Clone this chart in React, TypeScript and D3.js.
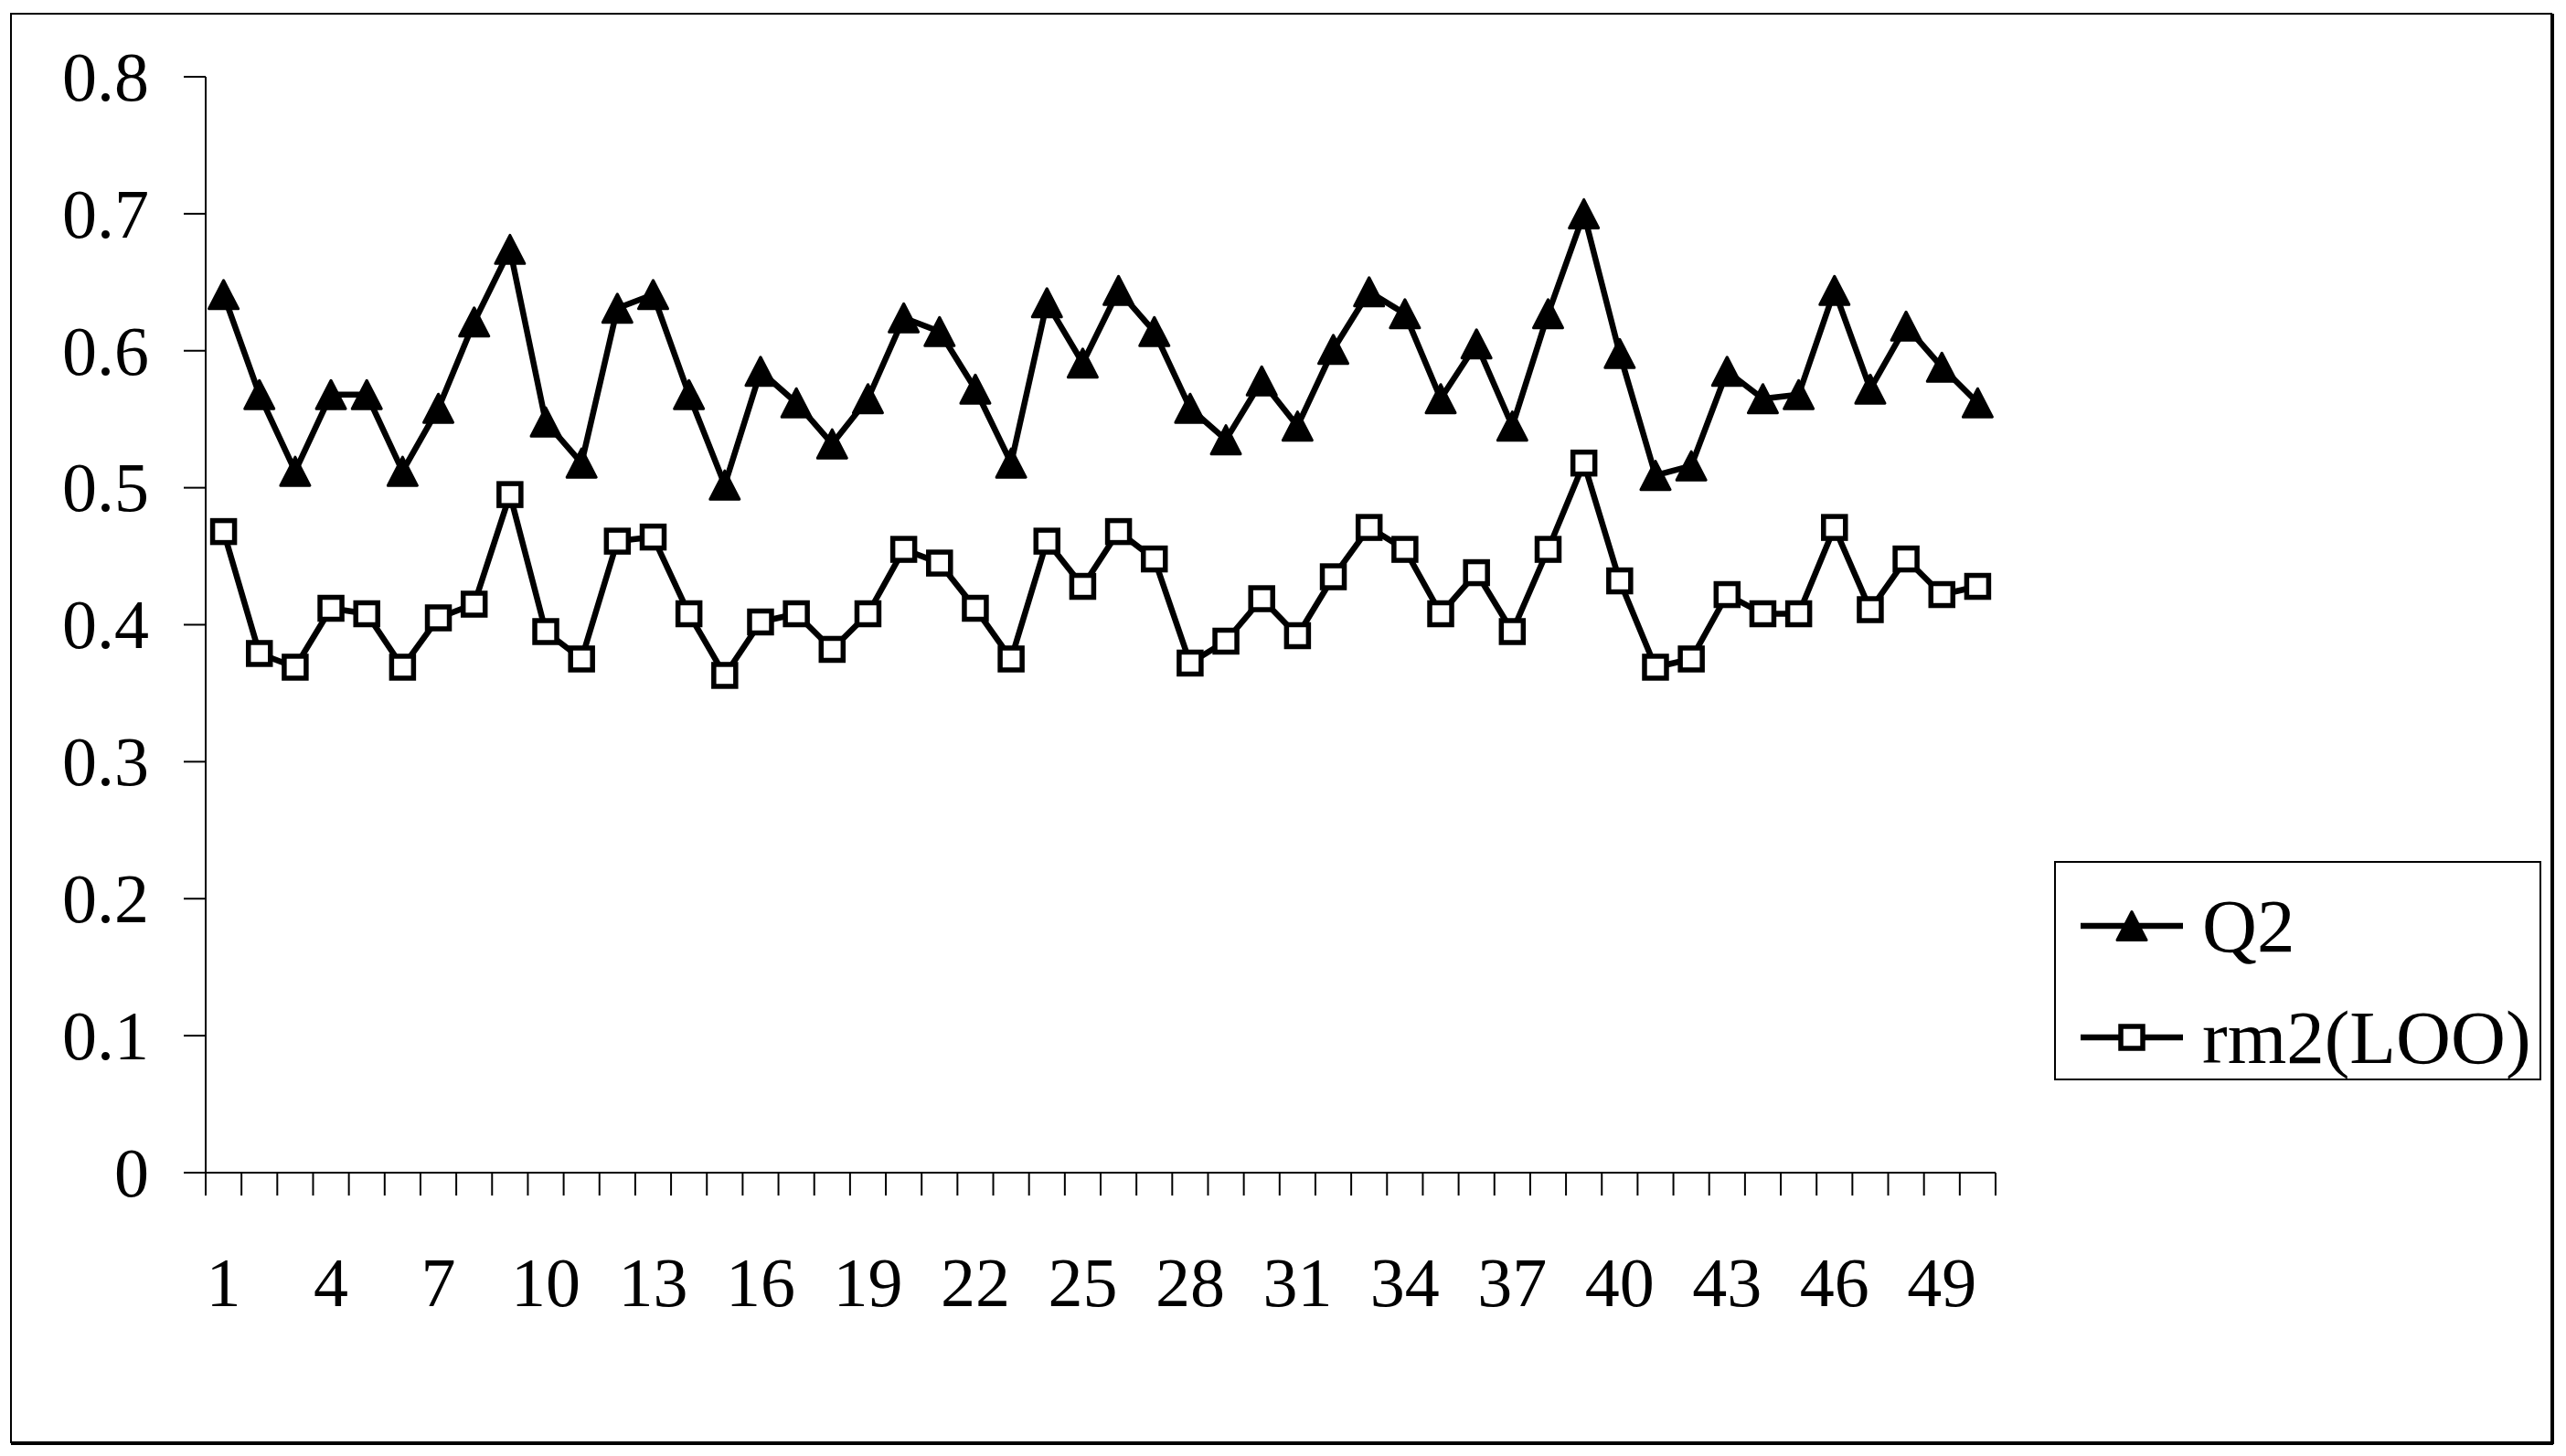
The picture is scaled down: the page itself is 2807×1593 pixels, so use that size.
import React from "react";
import * as d3 from "d3";

const categories: number[] = Array.from({ length: 50 }, (_, i) => i + 1);
const xTickLabels: number[] = [1, 4, 7, 10, 13, 16, 19, 22, 25, 28, 31, 34, 37, 40, 43, 46, 49];
const yTicks: number[] = [0, 0.1, 0.2, 0.3, 0.4, 0.5, 0.6, 0.7, 0.8];

const q2: number[] = [
  0.641, 0.568, 0.512, 0.568, 0.568, 0.512, 0.558, 0.621, 0.674, 0.548,
  0.518, 0.631, 0.641, 0.568, 0.502, 0.585, 0.562, 0.532, 0.565, 0.624,
  0.614, 0.572, 0.518, 0.635, 0.591, 0.644, 0.614, 0.558, 0.535, 0.578,
  0.545, 0.601, 0.643, 0.627, 0.565, 0.605, 0.545, 0.627, 0.700, 0.598,
  0.509, 0.516, 0.585, 0.565, 0.568, 0.644, 0.572, 0.618, 0.588, 0.562,
];

const rm2: number[] = [
  0.468, 0.379, 0.369, 0.412, 0.408, 0.369, 0.405, 0.415, 0.495, 0.395,
  0.375, 0.461, 0.464, 0.408, 0.363, 0.402, 0.408, 0.382, 0.408, 0.455,
  0.445, 0.412, 0.375, 0.461, 0.428, 0.468, 0.448, 0.372, 0.388, 0.419,
  0.392, 0.435, 0.471, 0.455, 0.408, 0.438, 0.395, 0.455, 0.518, 0.432,
  0.369, 0.375, 0.422, 0.408, 0.408, 0.471, 0.411, 0.448, 0.422, 0.428,
];

const seriesNames = ["Q2", "rm2(LOO)"];

const W = 2807;
const H = 1593;
const FONT = "'Liberation Serif', 'Times New Roman', serif";

const plotLeft = 225;
const plotRight = 2183;
const plotTop = 84;
const plotBottom = 1283;

export default function App() {
  const x = d3
    .scaleBand<number>()
    .domain(categories)
    .range([plotLeft, plotRight])
    .paddingInner(0)
    .paddingOuter(0);
  const y = d3.scaleLinear().domain([0, 0.8]).range([plotBottom, plotTop]);
  const cx = (c: number) => (x(c) as number) + x.bandwidth() / 2;

  const line = d3
    .line<number>()
    .x((_, i) => cx(categories[i]))
    .y((d) => y(d));

  const tri = (px: number, py: number) => {
    const w = 32;
    const h = 31;
    return `M${px},${py - h / 2}L${px + w / 2},${py + h / 2}L${px - w / 2},${py + h / 2}Z`;
  };
  const sq = 24;
  const lw = 6.5;

  const boundaries = d3.range(categories.length + 1).map(
    (i) => plotLeft + i * x.bandwidth()
  );

  const legX0 = 2276;
  const legX1 = 2388;
  const legMid = (legX0 + legX1) / 2;
  const legY1 = 1013;
  const legY2 = 1135;

  return (
    <svg
      width={W}
      height={H}
      viewBox={`0 0 ${W} ${H}`}
      style={{ position: "absolute", left: 0, top: 0, background: "#fff" }}
    >
      <rect x={0} y={0} width={W} height={H} fill="#fff" />
      {/* outer chart frame */}
      <rect x={12} y={15} width={2779} height={1563} fill="none" stroke="#000" strokeWidth={2} />
      <line x1={12} y1={1579} x2={2793} y2={1579} stroke="#000" strokeWidth={4} />
      <line x1={2792} y1={15} x2={2792} y2={1580} stroke="#000" strokeWidth={4} />

      {/* y axis */}
      <line x1={plotLeft} y1={plotTop} x2={plotLeft} y2={plotBottom} stroke="#000" strokeWidth={2} />
      {yTicks.map((t) => (
        <g key={t}>
          <line x1={plotLeft - 24} y1={y(t)} x2={plotLeft} y2={y(t)} stroke="#000" strokeWidth={2} />
          <text
            x={163}
            y={y(t)}
            dy="0.34em"
            textAnchor="end"
            fontFamily={FONT}
            fontSize={76}
            fill="#000"
          >
            {String(t)}
          </text>
        </g>
      ))}

      {/* x axis */}
      <line x1={plotLeft} y1={plotBottom} x2={plotRight} y2={plotBottom} stroke="#000" strokeWidth={2} />
      {boundaries.map((bx, i) => (
        <line key={i} x1={bx} y1={plotBottom} x2={bx} y2={plotBottom + 25} stroke="#000" strokeWidth={2} />
      ))}
      {xTickLabels.map((c) => (
        <text
          key={c}
          x={cx(c)}
          y={1429}
          textAnchor="middle"
          fontFamily={FONT}
          fontSize={76}
          fill="#000"
        >
          {c}
        </text>
      ))}

      {/* series Q2 */}
      <path d={line(q2) || ""} fill="none" stroke="#000" strokeWidth={lw} strokeLinejoin="round" />
      {q2.map((v, i) => (
        <path
          key={"t" + i}
          d={tri(cx(categories[i]), y(v))}
          fill="#000"
          stroke="#000"
          strokeWidth={3}
          strokeLinejoin="round"
        />
      ))}

      {/* series rm2 */}
      <path d={line(rm2) || ""} fill="none" stroke="#000" strokeWidth={lw} strokeLinejoin="round" />
      {rm2.map((v, i) => (
        <rect
          key={"s" + i}
          x={cx(categories[i]) - sq / 2}
          y={y(v) - sq / 2}
          width={sq}
          height={sq}
          fill="#fff"
          stroke="#000"
          strokeWidth={5.5}
        />
      ))}

      {/* legend */}
      <rect x={2248} y={943} width={531} height={238} fill="#fff" stroke="#000" strokeWidth={2} />
      <line x1={legX0} y1={legY1} x2={legX1} y2={legY1} stroke="#000" strokeWidth={lw} />
      <path d={tri(legMid, legY1)} fill="#000" stroke="#000" strokeWidth={3} strokeLinejoin="round" />
      <text x={2409} y={legY1} dy="0.34em" fontFamily={FONT} fontSize={83} fill="#000">
        {seriesNames[0]}
      </text>
      <line x1={legX0} y1={legY2} x2={legX1} y2={legY2} stroke="#000" strokeWidth={lw} />
      <rect
        x={legMid - sq / 2}
        y={legY2 - sq / 2}
        width={sq}
        height={sq}
        fill="#fff"
        stroke="#000"
        strokeWidth={5.5}
      />
      <text x={2409} y={legY2} dy="0.34em" fontFamily={FONT} fontSize={83} fill="#000">
        {seriesNames[1]}
      </text>
    </svg>
  );
}
